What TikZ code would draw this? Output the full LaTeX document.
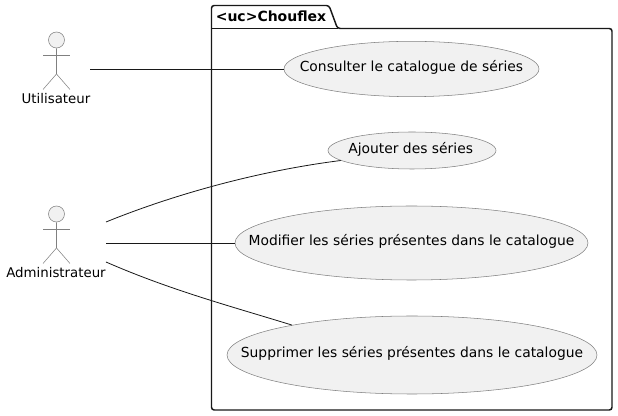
\documentclass[tikz,border=0pt]{standalone}
\usepackage{fontspec}
\setmainfont{DejaVu Sans}
\usepackage{xcolor}
\usetikzlibrary{shapes.geometric}
\definecolor{usefill}{HTML}{F1F1F1}
\definecolor{useline}{HTML}{181818}

\begin{document}
\begin{tikzpicture}[
			x=0.75pt, y=-0.75pt,
			usecase/.style={draw=useline!55, fill=usefill, ellipse, inner sep=0pt, line width=0.4pt},
			head/.style={draw=useline!55, fill=usefill, circle, inner sep=0pt, minimum size=12pt, line width=0.4pt},
			stick/.style={draw=useline!55, line width=0.4pt},
			link/.style={draw=useline, line width=0.6pt},
			mylabel/.style={inner sep=0pt, font=\fontsize{10pt}{12pt}\selectfont},
			casetxt/.style={inner sep=0pt, yshift=1pt, font=\fontsize{10.4pt}{12pt}\selectfont}
		]
		\useasboundingbox (0,0) rectangle (618,416);

		\draw[line width=1.1pt, draw=useline, rounded corners=2pt] (211.5,28.5) -- (211.5,5.5) -- (329,5.5) -- (337.5,28.5) -- (612,28.5) -- (612,410) -- (211.5,410) -- cycle;
		\draw[line width=0.8pt, draw=useline] (211.5,28.5) -- (337.5,28.5);
		\node[mylabel, font=\fontsize{10.5pt}{12pt}\selectfont\bfseries, anchor=base west] (pack) at (215.5,22) {<uc>Chouflex};

		\node[usecase, minimum width=191.25pt, minimum height=41.5pt] (consult) at (411.5,69) {};
		\node[casetxt] (consulttxt) at (consult) {Consulter le catalogue de séries};
		\node[usecase, minimum width=126pt, minimum height=27.75pt] (ajout) at (412,150.5) {};
		\node[casetxt, xshift=-1pt] (ajouttxt) at (ajout) {Ajouter des séries};
		\node[usecase, minimum width=264.75pt, minimum height=55.5pt] (modif) at (411.5,243) {};
		\node[casetxt] (modiftxt) at (modif) {Modifier les séries présentes dans le catalogue};
		\node[usecase, minimum width=277.5pt, minimum height=58.5pt] (suppr) at (412,355) {};
		\node[casetxt] (supprtxt) at (suppr) {Supprimer les séries présentes dans le catalogue};

		\node[head] (utilhead) at (56.5,40) {};
		\draw[stick] (utilhead.south) -- (56.5,74) -- (43,89.5);
		\draw[stick] (56.5,74) -- (70,89.5);
		\draw[stick] (43,55) -- (70,55);
		\node[mylabel] (utillabel) at (56,98.5) {Utilisateur};

		\node[head] (adminhead) at (56.5,214) {};
		\draw[stick] (adminhead.south) -- (56.5,248) -- (43,263.5);
		\draw[stick] (56.5,248) -- (70,263.5);
		\draw[stick] (43,229) -- (70,229);
		\node[mylabel] (adminlabel) at (56,272.5) {Administrateur};

		\coordinate (utilend) at (90,69);
		\coordinate (adminup) at (106,222);
		\coordinate (adminmid) at (106,243);
		\coordinate (admindown) at (106,262);

		\draw[link] (utilend) -- (consult.west);
		\draw[link] (adminup) .. controls (165,198) and (250,172) .. (ajout.188);
		\draw[link] (adminmid) -- (modif.west);
		\draw[link] (admindown) .. controls (170,290) and (230,306) .. (suppr.166);
	\end{tikzpicture}
\end{document}
